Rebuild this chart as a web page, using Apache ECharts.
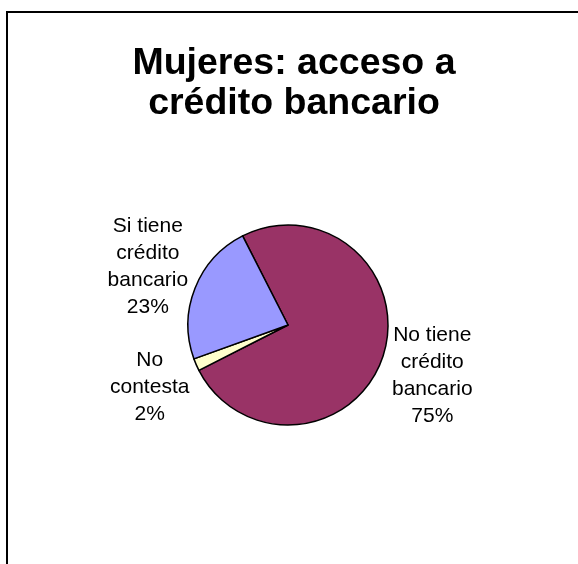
<!DOCTYPE html>
<html>
<head>
<meta charset="utf-8">
<style>
  html, body { margin: 0; padding: 0; background: #fff; }
  #chart { width: 578px; height: 564px; }
</style>
<script src="https://cdn.jsdelivr.net/npm/echarts@6/dist/echarts.min.js"></script>
</head>
<body>
<div id="chart"></div>
<script>
// data, clockwise from the slice boundary at ~11 o'clock
const categories = ['No tiene crédito bancario', 'No contesta', 'Si tiene crédito bancario']
const labelNames = ['No tiene\ncrédito\nbancario', 'No\ncontesta', 'Si tiene\ncrédito\nbancario']
const values = [75, 2, 23]
const colors = ['#993366', '#FFFFCC', '#9999FF']

// small label nudges to mimic the original placement
const labelShift = [[-2, 19], [4, 22], [4, -21]]

const chart = echarts.init(document.getElementById('chart'), null, { renderer: 'canvas' })

const option = {
  backgroundColor: '#fff',
  animation: false,
  title: {
    text: 'Mujeres: acceso a\ncrédito bancario',
    left: 294,
    textAlign: 'center',
    top: 44,
    padding: 0,
    textStyle: {
      fontFamily: 'Liberation Sans, Arial, sans-serif',
      fontSize: 37.5,
      fontWeight: 'bold',
      color: '#000',
      lineHeight: 40
    }
  },
  graphic: [{
    type: 'rect',
    shape: { x: 7, y: 12, width: 700, height: 700 },
    style: { fill: 'none', stroke: '#000', lineWidth: 2 },
    silent: true
  }],
  series: [{
    type: 'pie',
    center: [288, 325],
    radius: 100,
    startAngle: 117,
    clockwise: true,
    avoidLabelOverlap: false,
    itemStyle: { borderColor: '#000', borderWidth: 1.5 },
    emphasis: { disabled: true },
    label: {
      show: true,
      position: 'outside',
      color: '#000',
      fontFamily: 'Liberation Sans, Arial, sans-serif',
      fontSize: 21,
      lineHeight: 27,
      formatter: p => {
        const lines = labelNames[p.dataIndex].split('\n').concat([Math.round(p.percent) + '%'])
        return lines.map(l => '{c|' + l + '}').join('\n')
      },
      rich: {
        c: {
          align: 'center',
          color: '#000',
          fontFamily: 'Liberation Sans, Arial, sans-serif',
          fontSize: 21,
          lineHeight: 27
        }
      }
    },
    labelLine: { show: false, length: 2, length2: 4 },
    labelLayout: p => ({ dx: labelShift[p.dataIndex][0], dy: labelShift[p.dataIndex][1] }),
    data: categories.map((name, i) => ({
      name: name,
      value: values[i],
      itemStyle: { color: colors[i] }
    }))
  }]
}

chart.setOption(option)
</script>
</body>
</html>
